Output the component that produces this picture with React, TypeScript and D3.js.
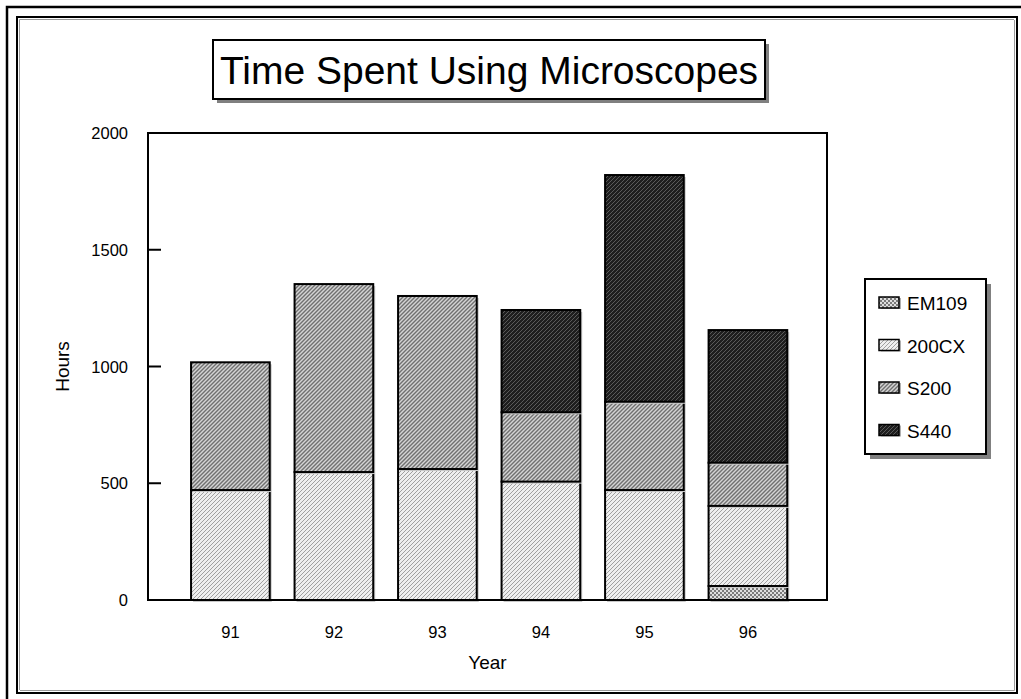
import React from "react";
import * as d3 from "d3";

const years = ["91", "92", "93", "94", "95", "96"];
const seriesNames = ["EM109", "200CX", "S200", "S440"];
const em109 = [0, 0, 0, 0, 0, 60];
const cx200 = [471, 548, 561, 507, 471, 343];
const s200 = [547, 805, 741, 297, 378, 185];
const s440 = [0, 0, 0, 438, 971, 568];
const yTicks = [0, 500, 1000, 1500, 2000];

const W = 1021;
const H = 699;
const plot = { left: 148, right: 827, top: 133, bottom: 600 };
const font = "'Liberation Sans', Arial, sans-serif";

const fills: Record<string, string> = {
  EM109: "url(#pEM109)",
  "200CX": "url(#p200CX)",
  S200: "url(#pS200)",
  S440: "url(#pS440)",
};

export default function App() {
  const table = years.map((year, i) => ({
    year,
    EM109: em109[i],
    "200CX": cx200[i],
    S200: s200[i],
    S440: s440[i],
  }));
  const stacked = d3.stack<any>().keys(seriesNames)(table);

  const x = d3
    .scaleBand<string>()
    .domain(years)
    .range([plot.left, plot.right])
    .paddingInner(0.24)
    .paddingOuter(0.4)
    .align(0.52);
  const y = d3.scaleLinear().domain([0, 2000]).range([plot.bottom, plot.top]);

  const legend = { x: 865, y: 279, w: 121, h: 175 };
  const title = { x: 213, y: 40, w: 552, h: 59 };

  return (
    <svg
      width={W}
      height={H}
      style={{ position: "absolute", left: 0, top: 0, display: "block" }}
      fontFamily={font}
    >
      <defs>
        <pattern id="p200CX" width="4" height="4" patternUnits="userSpaceOnUse">
          <rect width="4" height="4" fill="#efefef" />
          <path d="M-1,1 l2,-2 M0,4 l4,-4 M3,5 l2,-2" stroke="#a0a0a0" strokeWidth="1" />
        </pattern>
        <pattern id="pS200" width="4" height="4" patternUnits="userSpaceOnUse">
          <rect width="4" height="4" fill="#d4d4d4" />
          <path d="M-1,1 l2,-2 M0,4 l4,-4 M3,5 l2,-2" stroke="#707070" strokeWidth="1.4" />
        </pattern>
        <pattern id="pEM109" width="4" height="4" patternUnits="userSpaceOnUse">
          <rect width="4" height="4" fill="#dedede" />
          <rect x="0" y="0" width="2" height="2" fill="#7a7a7a" />
          <rect x="2" y="2" width="2" height="2" fill="#7a7a7a" />
        </pattern>
        <pattern id="pS440" width="4" height="4" patternUnits="userSpaceOnUse">
          <rect width="4" height="4" fill="#1e1e1e" />
          <path d="M-1,1 l2,-2 M0,4 l4,-4 M3,5 l2,-2" stroke="#5a5a5a" strokeWidth="1" />
        </pattern>
      </defs>

      <rect width={W} height={H} fill="#fff" />

      {/* page frames */}
      <path d={`M7,${H + 5} V7 H${W + 5}`} fill="none" stroke="#000" strokeWidth={2.5} />
      <rect x={17} y={17} width={1000} height={676} fill="none" stroke="#000" strokeWidth={2} />
      <path d={`M19.5,690 V19.5 H1014`} fill="none" stroke="#9a9a9a" strokeWidth={1} />
      <path d={`M1014.5,20 V690.5 H20`} fill="none" stroke="#9a9a9a" strokeWidth={1} />

      {/* title */}
      <rect x={title.x + 4} y={title.y + 4} width={title.w} height={title.h} fill="#808080" />
      <rect x={title.x} y={title.y} width={title.w} height={title.h} fill="#fff" stroke="#000" strokeWidth={2} />
      <text
        x={title.x + title.w / 2}
        y={title.y + 44}
        textAnchor="middle"
        fontSize={39}
        fill="#000"
      >
        Time Spent Using Microscopes
      </text>

      {/* bars */}
      {stacked.map((layer) =>
        layer.map((d, i) => {
          const v = d[1] - d[0];
          if (v <= 0) return null;
          const x0 = x(years[i])!;
          return (
            <g key={layer.key + i}>
              <rect
                x={x0 + 2}
                y={y(d[1]) + 2}
                width={x.bandwidth()}
                height={y(d[0]) - y(d[1])}
                fill="#c8c8c8"
              />
              <rect
                x={x0}
                y={y(d[1])}
                width={x.bandwidth()}
                height={y(d[0]) - y(d[1])}
                fill={fills[layer.key]}
                stroke="#000"
                strokeWidth={2}
              />
            </g>
          );
        })
      )}

      {/* plot frame */}
      <rect
        x={plot.left}
        y={plot.top}
        width={plot.right - plot.left}
        height={plot.bottom - plot.top}
        fill="none"
        stroke="#000"
        strokeWidth={2}
      />

      {/* y axis ticks and labels */}
      {yTicks.map((t) => (
        <g key={t}>
          {t > 0 && t < 2000 && (
            <line x1={plot.left} x2={plot.left + 13} y1={y(t)} y2={y(t)} stroke="#000" strokeWidth={2} />
          )}
          <text x={plot.left - 20} y={y(t) + 6} textAnchor="end" fontSize={16.5} fill="#000">
            {t}
          </text>
        </g>
      ))}

      {/* x labels */}
      {years.map((yr) => (
        <text
          key={yr}
          x={x(yr)! + x.bandwidth() / 2}
          y={638}
          textAnchor="middle"
          fontSize={16.5}
          fill="#000"
        >
          {yr}
        </text>
      ))}

      <text x={(plot.left + plot.right) / 2} y={669} textAnchor="middle" fontSize={19} fill="#000">
        Year
      </text>
      <text
        transform={`translate(69,${(plot.top + plot.bottom) / 2}) rotate(-90)`}
        textAnchor="middle"
        fontSize={19}
        fill="#000"
      >
        Hours
      </text>

      {/* legend */}
      <rect x={legend.x + 5} y={legend.y + 5} width={legend.w} height={legend.h} fill="#808080" />
      <rect x={legend.x} y={legend.y} width={legend.w} height={legend.h} fill="#fff" stroke="#000" strokeWidth={2} />
      {seriesNames.map((name, i) => {
        const cy = 303 + i * 42.5;
        return (
          <g key={name}>
            <rect x={881} y={cy - 5} width={20} height={11} fill="#b0b0b0" />
            <rect x={879} y={cy - 6} width={20} height={11} fill={fills[name]} stroke="#000" strokeWidth={1.5} />
            <text x={907} y={cy + 7} fontSize={19} fill="#000">
              {name}
            </text>
          </g>
        );
      })}
    </svg>
  );
}
